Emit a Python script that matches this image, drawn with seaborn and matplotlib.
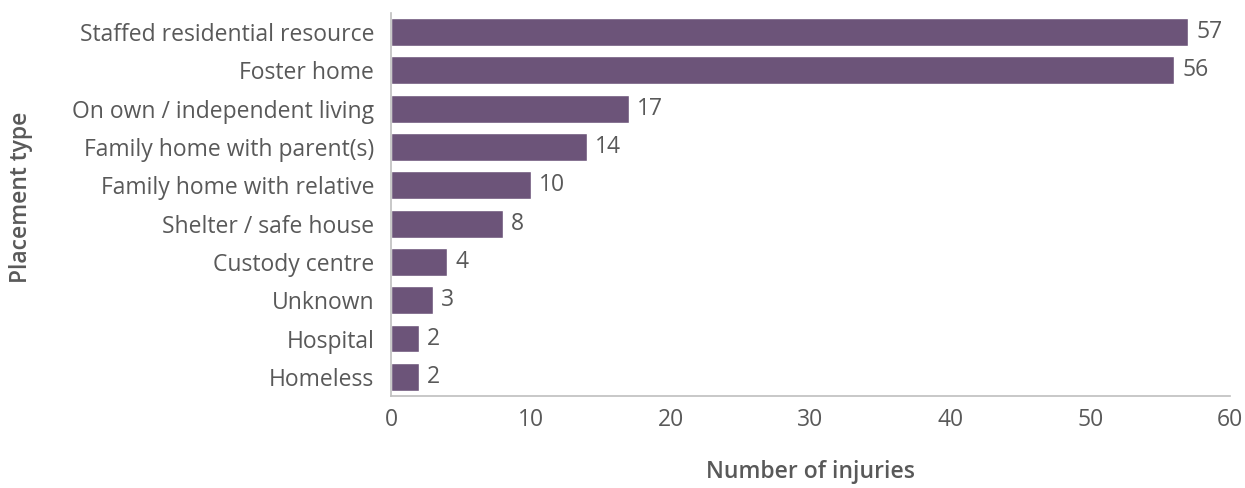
import matplotlib
matplotlib.use("Agg")
import matplotlib.pyplot as plt
import seaborn as sns
import pandas as pd

categories = [
    "Staffed residential resource",
    "Foster home",
    "On own / independent living",
    "Family home with parent(s)",
    "Family home with relative",
    "Shelter / safe house",
    "Custody centre",
    "Unknown",
    "Hospital",
    "Homeless",
]
injuries = [57, 56, 17, 14, 10, 8, 4, 3, 2, 2]
x_ticks = [0, 10, 20, 30, 40, 50, 60]

sns.set_theme(style="white")
plt.rcParams["font.family"] = ["Open Sans", "DejaVu Sans"]

bar_color = "#6c5479"
text_color = "#595959"
spine_color = "#bfbfbf"
fs = 16.5

df = pd.DataFrame({"Placement type": categories, "Number of injuries": injuries})

fig = plt.figure(figsize=(12.45, 4.88), dpi=100)
ax = fig.add_axes([391 / 1245, 1 - 396 / 488, (1230 - 391) / 1245, (396 - 12.7) / 488])

sns.barplot(data=df, x="Number of injuries", y="Placement type", color=bar_color,
            saturation=1, width=0.73, ax=ax, order=categories)

for patch, val in zip(ax.patches, injuries):
    ax.text(patch.get_width() + 0.6, patch.get_y() + patch.get_height() / 2, f"{val}",
            va="center", ha="left", fontsize=fs, color=text_color)

ax.set_xlim(0, 60)
ax.set_ylim(9.5, -0.5)
ax.set_xticks(x_ticks)
ax.set_xticklabels([str(t) for t in x_ticks])
ax.tick_params(axis="both", length=0, labelsize=fs, labelcolor=text_color)
ax.tick_params(axis="y", pad=12)
ax.tick_params(axis="x", pad=9)

ax.set_xlabel("Number of injuries", fontsize=fs, fontweight="semibold", color=text_color)
ax.xaxis.set_label_coords(0.5, -(460 - 396) / 383.3)
ax.set_ylabel("Placement type", fontsize=fs, fontweight="semibold", color=text_color)
ax.yaxis.set_label_coords((33 - 391) / 839, (396 - 197) / 383.3)

for side in ["top", "right"]:
    ax.spines[side].set_visible(False)
for side in ["left", "bottom"]:
    ax.spines[side].set_color(spine_color)
    ax.spines[side].set_linewidth(1.2)

fig.savefig("out.png", dpi=100)
